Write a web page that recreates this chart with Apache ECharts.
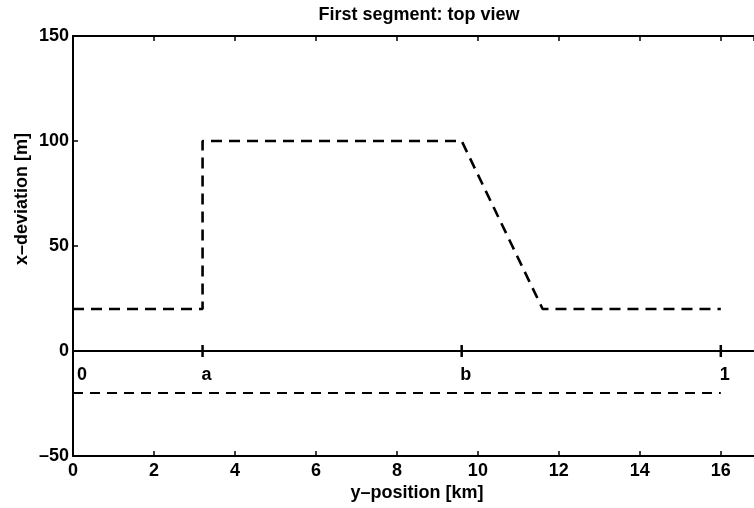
<!DOCTYPE html>
<html>
<head>
<meta charset="utf-8">
<script src="https://cdn.jsdelivr.net/npm/echarts@6/dist/echarts.min.js"></script>
<style>
  html, body { margin: 0; padding: 0; background: #fff; }
  #chart { width: 754px; height: 508px; }
</style>
</head>
<body>
<div id="chart"></div>
<script>
// Planned track of the first segment (x-deviation vs. y-position)
const pathY_km = [0, 3.2, 3.2, 9.6, 11.6, 16];
const pathX_m  = [20, 20, 100, 100, 20, 20];

// Mirrored track below the reference line
const lowerY_km = [0, 16];
const lowerX_m  = [-20, -20];

// Reference line markers and their names
const markPos   = [0, 3.2, 9.6, 16];
const markNames = ['0', 'a', 'b', '1'];

// Axis ranges (the figure is clipped on the right, just past 16.8 km)
const xMin = 0, xMax = 16.82, xStep = 2;
const yMin = -50, yMax = 150, yStep = 50;

const FONT = '"Liberation Sans", Arial, sans-serif';
const chart = echarts.init(document.getElementById('chart'), null, { renderer: 'canvas' });

const zip = (a, b) => a.map((v, i) => [v, b[i]]);

const tickStyle = { inside: true, length: 5, lineStyle: { color: '#000', width: 1.5 } };

chart.setOption({
  animation: false,
  backgroundColor: '#fff',
  grid: { left: 73, top: 36, right: 0, bottom: 52, containLabel: false },
  xAxis: [
    {
      type: 'value', position: 'bottom', min: xMin, max: xMax, interval: xStep,
      axisLine: { onZero: false, lineStyle: { color: '#000', width: 2 } },
      axisTick: tickStyle,
      axisLabel: { color: '#000', fontFamily: FONT, fontWeight: 'bold', fontSize: 18, margin: 6,
                   showMaxLabel: false },
      splitLine: { show: false }
    },
    {
      type: 'value', position: 'top', min: xMin, max: xMax, interval: xStep,
      axisLine: { onZero: false, lineStyle: { color: '#000', width: 2 } },
      axisTick: tickStyle,
      axisLabel: { show: false },
      splitLine: { show: false }
    }
  ],
  yAxis: {
    type: 'value', min: yMin, max: yMax, interval: yStep,
    axisLine: { onZero: false, lineStyle: { color: '#000', width: 2 } },
    axisTick: tickStyle,
    axisLabel: {
      color: '#000', fontFamily: FONT, fontWeight: 'bold', fontSize: 18, margin: 4,
      formatter: v => String(v).replace('-', '\u2013')
    },
    splitLine: { show: false }
  },
  series: [
    {
      name: 'reference', type: 'line', xAxisIndex: 0, symbol: 'none', silent: true,
      data: [[xMin, 0], [xMax, 0]],
      lineStyle: { color: '#000', width: 2 }
    },
    {
      name: 'track', type: 'line', xAxisIndex: 0, symbol: 'none', silent: true,
      data: zip(pathY_km, pathX_m),
      lineStyle: { color: '#000', width: 2.6, type: [11, 7] }
    },
    {
      name: 'mirror', type: 'line', xAxisIndex: 0, symbol: 'none', silent: true,
      data: zip(lowerY_km, lowerX_m),
      lineStyle: { color: '#000', width: 2, type: [10, 7] }
    },
    {
      name: 'marks', type: 'scatter', xAxisIndex: 0, silent: true,
      symbol: 'rect',
      symbolSize: (v, p) => p.dataIndex === 0 ? 0 : [2.5, 12],
      itemStyle: { color: '#000', opacity: 1 },
      data: markPos.map(p => [p, 0]),
      label: {
        show: true, position: 'bottom', distance: 9,
        color: '#000', fontFamily: FONT, fontWeight: 'bold', fontSize: 18,
        formatter: p => markNames[p.dataIndex]
      },
      labelLayout: (p) => p.dataIndex === 0 ? { dx: 9, dy: 6 } : { dx: 4 }
    }
  ],
  graphic: [
    {
      type: 'text', x: 419, y: 15, z: 10,
      style: { text: 'First segment: top view', fill: '#000', font: 'bold 18px ' + FONT,
               align: 'center', verticalAlign: 'middle' }
    },
    {
      type: 'text', x: 417, y: 493, z: 10,
      style: { text: 'y\u2013position [km]', fill: '#000', font: 'bold 18px ' + FONT,
               align: 'center', verticalAlign: 'middle' }
    },
    {
      type: 'text', x: 22, y: 199, rotation: Math.PI / 2, z: 10,
      style: { text: 'x\u2013deviation [m]', fill: '#000', font: 'bold 18px ' + FONT,
               align: 'center', verticalAlign: 'middle' }
    }
  ]
});
</script>
</body>
</html>
